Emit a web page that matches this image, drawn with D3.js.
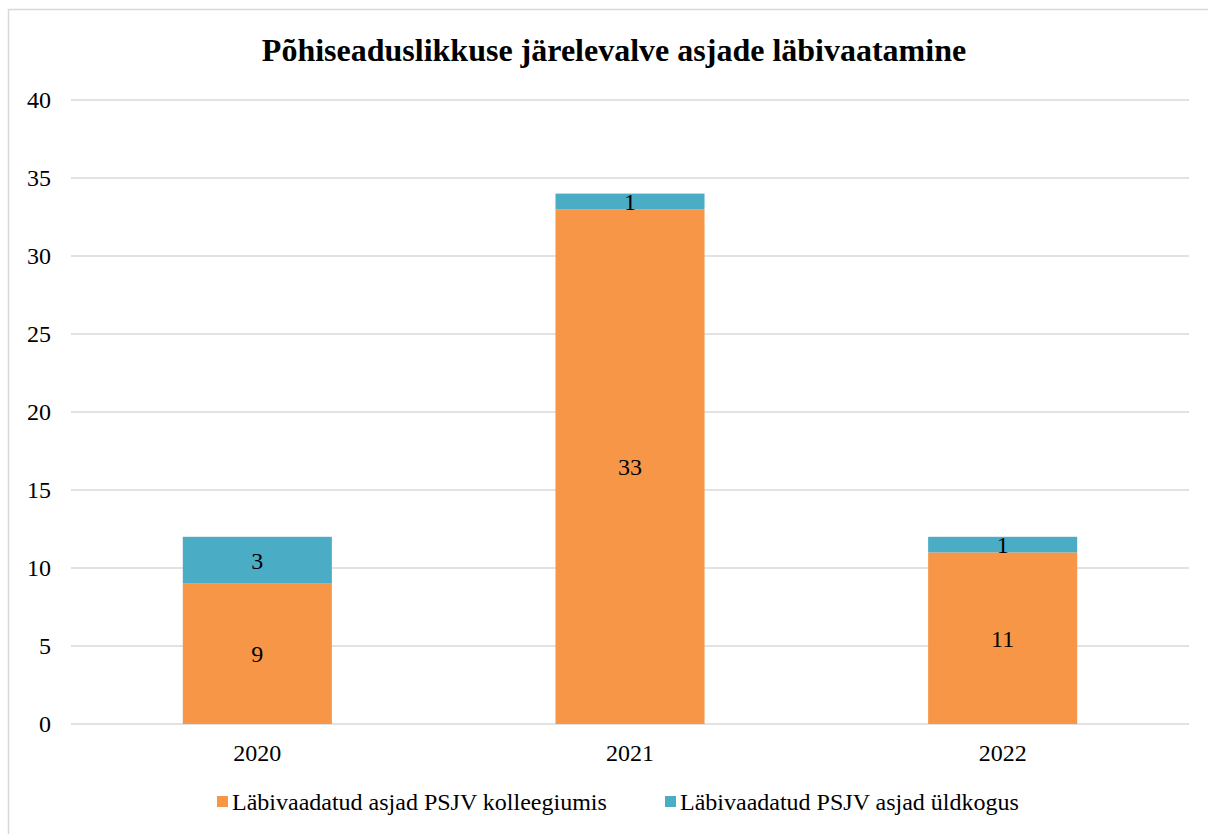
<!DOCTYPE html>
<html>
<head>
<meta charset="utf-8">
<script src="https://cdn.jsdelivr.net/npm/d3@7"></script>
<style>
  body { margin: 0; background: #fff; }
  text { font-family: "Liberation Serif", "Times New Roman", serif; fill: #000; }
</style>
</head>
<body>
<svg id="chart" width="1208" height="834"></svg>
<script>
var years = ["2020", "2021", "2022"];
var kolleegium = [9, 33, 11];
var yldkogu = [3, 1, 1];
var seriesNames = ["Läbivaadatud asjad PSJV kolleegiumis", "Läbivaadatud PSJV asjad üldkogus"];
var seriesColors = ["#F79646", "#4BACC6"];
var yTicks = [0, 5, 10, 15, 20, 25, 30, 35, 40];

var svg = d3.select("#chart");
var margin = {top: 100, left: 71, bottom: 110, right: 19};
var width = 1208 - margin.left - margin.right;
var height = 834 - margin.top - margin.bottom;

// outer chart border (runs off the right and bottom edge)
svg.append("rect")
	.attr("x", 8.5).attr("y", 9.5)
	.attr("width", 1260).attr("height", 900)
	.attr("fill", "none").attr("stroke", "#d9d9d9").attr("stroke-width", 1.5);

svg.append("text")
	.attr("x", 614).attr("y", 61)
	.attr("text-anchor", "middle")
	.style("font-size", "32px").style("font-weight", "bold")
	.text("Põhiseaduslikkuse järelevalve asjade läbivaatamine");

var g = svg.append("g").attr("transform", "translate(" + margin.left + "," + margin.top + ")");

var x = d3.scaleBand().domain(years).range([0, width]).paddingInner(0.6).paddingOuter(0.3);
var y = d3.scaleLinear().domain([0, 40]).range([height, 0]);

// gridlines
g.selectAll(".grid")
	.data(yTicks)
	.enter().append("line")
	.attr("x1", 0).attr("x2", width)
	.attr("y1", function(d){ return y(d); })
	.attr("y2", function(d){ return y(d); })
	.attr("stroke", "#d9d9d9").attr("stroke-width", 1.5);

var yAxis = g.append("g")
	.call(d3.axisLeft(y).tickValues(yTicks).tickSize(0).tickPadding(20));
yAxis.select(".domain").remove();
yAxis.selectAll("text").style("font-size", "24px").style("font-family", "Liberation Serif");

var xAxis = g.append("g")
	.attr("transform", "translate(0," + height + ")")
	.call(d3.axisBottom(x).tickSize(0).tickPadding(20));
xAxis.select(".domain").remove();
xAxis.selectAll("text").style("font-size", "24px").style("font-family", "Liberation Serif");

var table = years.map(function(yr, i){
	return {year: yr, kolleegium: kolleegium[i], yldkogu: yldkogu[i]};
});
var stack = d3.stack().keys(["kolleegium", "yldkogu"]);
var layers = stack(table);

var layer = g.selectAll(".layer")
	.data(layers)
	.enter().append("g")
	.attr("fill", function(d, i){ return seriesColors[i]; });

layer.selectAll("rect")
	.data(function(d){ return d; })
	.enter().append("rect")
	.attr("x", function(d){ return x(d.data.year); })
	.attr("width", x.bandwidth())
	.attr("y", function(d){ return y(d[1]); })
	.attr("height", function(d){ return y(d[0]) - y(d[1]); });

layer.selectAll("text")
	.data(function(d){ return d; })
	.enter().append("text")
	.attr("x", function(d){ return x(d.data.year) + x.bandwidth() / 2; })
	.attr("y", function(d){ return y((d[0] + d[1]) / 2); })
	.attr("dy", "0.35em")
	.attr("text-anchor", "middle")
	.style("font-size", "24px")
	.style("fill", "#000")
	.text(function(d){ return d[1] - d[0]; });

// legend
var legendX = [217, 665];
var leg = svg.selectAll(".legend")
	.data(seriesNames)
	.enter().append("g")
	.attr("transform", function(d, i){ return "translate(" + legendX[i] + ",802)"; });
leg.append("rect")
	.attr("x", 0).attr("y", -6)
	.attr("width", 11).attr("height", 11)
	.attr("fill", function(d, i){ return seriesColors[i]; });
leg.append("text")
	.attr("x", 15).attr("y", 0).attr("dy", "0.35em")
	.style("font-size", "24px")
	.text(function(d){ return d; });
</script>
</body>
</html>
